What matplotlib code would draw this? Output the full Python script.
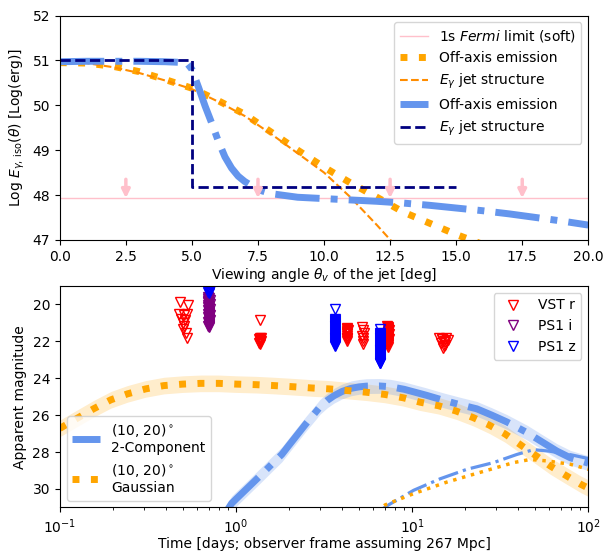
import numpy as np
import matplotlib
matplotlib.use("Agg")
import matplotlib.pyplot as plt

# ---- top panel: isotropic gamma-ray energy vs viewing angle ----
fermi_limit = 47.93
arrow_theta = [2.5, 7.5, 12.5, 17.5]
arrow_top = 48.35

# Gaussian jet
gauss_theta = [0, 1, 2, 3, 4, 5, 6, 7, 8, 9, 10, 11, 12, 13, 14, 15, 16, 17]
gauss_offaxis = [50.95, 50.94, 50.87, 50.75, 50.57, 50.38, 50.1, 49.8, 49.4,
                 49.0, 48.62, 48.27, 47.95, 47.62, 47.37, 47.12, 46.9, 46.7]
gauss_jet_theta = [0, 1, 2, 3, 4, 5, 6, 7, 8, 9, 10, 11, 12, 13, 14]
gauss_jet = [50.97, 50.94, 50.85, 50.72, 50.55, 50.36, 50.08, 49.76, 49.36,
             48.93, 48.5, 47.95, 47.33, 46.68, 46.0]

# two-component jet
twoc_theta = [0, 1, 2, 3, 4, 4.8, 5.0, 5.25, 5.5, 5.75, 6.0, 6.25, 6.5, 6.75,
              7.0, 7.5, 8.0, 9, 10, 11, 12, 13, 14, 15, 16, 17, 18, 19, 20]
twoc_offaxis = [50.97, 50.98, 50.98, 50.98, 50.97, 50.95, 50.8, 50.4, 49.98,
                49.6, 49.2, 48.85, 48.6, 48.42, 48.3, 48.12, 48.03, 47.95,
                47.92, 47.89, 47.86, 47.82, 47.77, 47.71, 47.65, 47.58, 47.5,
                47.42, 47.33]
twoc_jet_theta = [0, 5, 5, 15]
twoc_jet = [51.0, 51.0, 48.17, 48.17]

# ---- bottom panel: light curves and upper limits ----
gauss_t = [0.1, 0.125, 0.156, 0.195, 0.242, 0.307, 0.39, 0.5, 0.63, 0.8, 1.0,
           1.3, 1.65, 2.1, 2.7, 3.4, 4.3, 5.5, 7.0, 8.9, 11.1, 14.1, 17.8,
           22.3, 27.4, 33.7, 41.1, 50.0, 60.8, 75.0, 90.8, 100]
gauss_mag = [26.72, 26.18, 25.65, 25.17, 24.85, 24.58, 24.4, 24.32, 24.28,
             24.28, 24.32, 24.35, 24.4, 24.46, 24.53, 24.58, 24.67, 24.76,
             24.88, 25.06, 25.3, 25.49, 25.78, 26.14, 26.54, 27.02, 27.6,
             28.17, 28.75, 29.28, 29.75, 29.95]
gauss_err = 0.45

twoc_t = [0.9, 0.945, 1.0, 1.2, 1.4, 1.6, 1.82, 2.0, 2.2, 2.5, 2.8, 3.0, 3.3,
          3.6, 4.0, 4.5, 5.0, 5.5, 6.5, 7.5, 9.0, 12.0, 15.1, 19.0, 23.3,
          28.3, 34.5, 45.0, 55.7, 66.4, 79.1, 100]
twoc_mag = [31.1, 30.78, 30.55, 29.82, 29.2, 28.65, 28.13, 27.63, 27.13,
            26.46, 25.9, 25.55, 25.2, 24.95, 24.72, 24.55, 24.47, 24.43,
            24.42, 24.46, 24.6, 24.92, 25.2, 25.45, 25.66, 26.0, 26.37,
            26.95, 27.5, 27.95, 28.31, 28.6]
twoc_err = 0.4

twoc_low_t = [6.5, 7.35, 10.2, 14.4, 20.5, 29.0, 39.3, 48.9, 60.0, 80.0, 100]
twoc_low_mag = [31.2, 30.86, 30.07, 29.45, 28.93, 28.57, 28.13, 27.87, 27.95,
                28.15, 28.35]
gauss_low_t = [6.3, 7.03, 10.2, 15.7, 24.3, 37.7, 46.8, 58.2, 79.0, 100]
gauss_low_mag = [31.2, 30.86, 30.25, 29.63, 29.1, 28.57, 28.4, 28.48, 28.66,
                 28.93]

vst_t = [0.48, 0.535, 0.475, 0.505, 0.53, 0.49, 0.515, 0.5, 0.51, 0.5, 0.52,
         0.53,
         1.37, 1.37, 1.38, 1.36, 1.37, 1.38, 1.37, 1.36, 1.37,
         4.25, 4.27, 4.3, 4.26, 4.28, 4.25, 4.29, 4.27, 4.28, 4.26, 4.27, 4.28,
         5.2, 5.25, 5.3, 5.22, 5.27, 5.24, 5.28,
         7.2, 7.3, 7.4, 7.25, 7.35, 7.3, 7.22, 7.38, 7.3, 7.28, 7.33, 7.3,
         7.32, 7.26, 7.3, 7.28, 7.34, 7.3, 7.29, 7.31, 7.3, 7.3,
         14.2, 15.6, 14.8, 15.9, 15.1, 14.5, 15.3, 15.0, 14.7, 15.4, 15.2]
vst_mag = [19.9, 20.05, 20.55, 20.6, 20.55, 20.8, 20.85, 21.0, 21.15, 21.35,
           21.55, 21.85,
           20.85, 21.8, 21.85, 21.9, 21.95, 22.0, 22.05, 22.1, 22.15,
           21.3, 21.35, 21.4, 21.45, 21.5, 21.55, 21.6, 21.7, 21.8, 21.85,
           21.9, 22.0,
           21.25, 21.4, 21.55, 21.7, 21.85, 22.0, 22.15,
           21.2, 21.3, 21.4, 21.5, 21.6, 21.7, 21.8, 21.9, 22.0, 22.1, 22.2,
           22.3, 21.25, 21.35, 21.45, 21.55, 21.65, 21.75, 21.85, 21.95,
           22.05, 22.15,
           21.8, 21.85, 21.9, 21.95, 22.0, 22.1, 22.2, 22.35, 21.9, 22.05,
           22.25]

ps1i_t = [0.69, 0.70, 0.69, 0.71, 0.69, 0.70, 0.69, 0.70, 0.71, 0.69, 0.70,
          0.69, 0.70, 0.71, 0.69, 0.70, 0.70, 0.70, 0.69, 0.70, 0.71, 0.70,
          0.69, 0.70, 0.70, 0.71, 0.70, 0.69, 0.70, 0.70, 0.70, 0.69, 0.70,
          0.70]
ps1i_mag = [19.6, 19.65, 19.7, 19.75, 19.8, 19.85, 19.9, 19.95, 20.0, 20.05,
            20.1, 20.15, 20.2, 20.25, 20.3, 20.35, 20.4, 20.45, 20.5, 20.55,
            20.6, 20.65, 20.7, 20.75, 20.8, 20.85, 20.9, 20.95, 21.0, 21.05,
            21.1, 21.15, 21.2, 21.25]

ps1z_t = [0.69, 0.70, 0.71, 0.69, 0.70, 0.70, 0.69, 0.71, 0.70, 0.70, 0.69,
          0.70,
          3.65, 3.65, 3.65, 3.65, 3.65, 3.65, 3.65, 3.65, 3.65, 3.65, 3.65,
          3.65, 3.65, 3.65, 3.65, 3.65, 3.65, 3.65, 3.65, 3.65, 3.65, 3.65,
          3.65, 3.65, 3.65, 3.65, 3.65, 3.65, 3.65, 3.65, 3.65,
          6.6, 6.6, 6.6, 6.6, 6.6, 6.6, 6.6, 6.6, 6.6, 6.6, 6.6, 6.6, 6.6,
          6.6, 6.6, 6.6, 6.6, 6.6, 6.6, 6.6, 6.6, 6.6, 6.6, 6.6, 6.6, 6.6,
          6.6, 6.6, 6.6, 6.6, 6.6, 6.6, 6.6, 6.6, 6.6]
ps1z_mag = [18.85, 18.9, 18.95, 19.0, 19.05, 19.1, 19.15, 19.2, 19.25, 19.3,
            19.35, 19.4,
            20.25, 20.8, 20.85, 20.9, 20.95, 21.0, 21.05, 21.1, 21.15, 21.2,
            21.25, 21.3, 21.35, 21.4, 21.45, 21.5, 21.55, 21.6, 21.65, 21.7,
            21.75, 21.8, 21.85, 21.9, 21.95, 22.0, 22.05, 22.1, 22.15, 22.2,
            22.25,
            21.35, 21.55, 21.6, 21.65, 21.7, 21.75, 21.8, 21.85, 21.9, 21.95,
            22.0, 22.05, 22.1, 22.15, 22.2, 22.25, 22.3, 22.35, 22.4, 22.45,
            22.5, 22.55, 22.6, 22.65, 22.7, 22.75, 22.8, 22.85, 22.9, 22.95,
            23.0, 23.05, 23.1, 23.15, 23.2]

fig = plt.figure(figsize=(6.04, 5.54), dpi=100)
ax1 = fig.add_axes([0.099, 0.567, 0.875, 0.405])
ax2 = fig.add_axes([0.099, 0.084, 0.875, 0.400])

# top panel
ax1.axhline(fermi_limit, color='pink', lw=1, label=r'1s $\mathit{Fermi}$ limit (soft)')
for th in arrow_theta:
    ax1.annotate('', xy=(th, fermi_limit), xytext=(th, arrow_top),
                 arrowprops=dict(arrowstyle='-|>', color='pink', lw=2.5,
                                 mutation_scale=12, shrinkA=0, shrinkB=0))
ax1.plot(gauss_theta, gauss_offaxis, ':', color='orange', lw=5,
         label='Off-axis emission')
ax1.plot(gauss_jet_theta, gauss_jet, '--', color='darkorange', lw=1.5,
         label=r'$E_\gamma$ jet structure')
ax1.plot(twoc_theta, twoc_offaxis, '-.', color='cornflowerblue', lw=5,
         label='Off-axis emission')
ax1.plot(twoc_jet_theta, twoc_jet, '--', color='navy', lw=2,
         label=r'$E_\gamma$ jet structure')
ax1.set_xlim(0, 20)
ax1.set_ylim(47, 52)
ax1.set_xlabel(r'Viewing angle $\theta_v$ of the jet [deg]', labelpad=2)
ax1.set_ylabel(r'Log $E_{\gamma,\,\rm iso}(\theta)$ [Log(erg)]')
ax1.legend(loc='upper right')

# bottom panel
ax2.plot(vst_t, vst_mag, 'v', mfc='none', mec='red', ms=6.5, label='VST r')
ax2.plot(ps1i_t, ps1i_mag, 'v', mfc='none', mec='purple', ms=6.5, label='PS1 i')
ax2.plot(ps1z_t, ps1z_mag, 'v', mfc='none', mec='blue', ms=6.5, label='PS1 z')
leg_obs = ax2.legend(loc='upper right')

gm = np.array(gauss_mag)
tm = np.array(twoc_mag)
ax2.fill_between(gauss_t, gm - gauss_err, gm + gauss_err, color='orange',
                 alpha=0.2, lw=0)
ax2.fill_between(twoc_t, tm - twoc_err, tm + twoc_err, color='cornflowerblue',
                 alpha=0.25, lw=0)
l_twoc, = ax2.plot(twoc_t, twoc_mag, '-.', color='cornflowerblue', lw=5,
                   label='(10, 20)$^\\circ$\n2-Component')
l_gauss, = ax2.plot(gauss_t, gauss_mag, ':', color='orange', lw=5,
                    label='(10, 20)$^\\circ$\nGaussian')
ax2.plot(twoc_low_t, twoc_low_mag, '-.', color='cornflowerblue', lw=2.3)
ax2.plot(gauss_low_t, gauss_low_mag, ':', color='orange', lw=2.5)
ax2.legend(handles=[l_twoc, l_gauss], loc='lower left')
ax2.add_artist(leg_obs)

ax2.set_xscale('log')
ax2.set_xlim(0.1, 100)
ax2.set_ylim(31, 19)
ax2.set_yticks([20, 22, 24, 26, 28, 30])
ax2.set_xlabel('Time [days; observer frame assuming 267 Mpc]', labelpad=1)
ax2.set_ylabel('Apparent magnitude')

fig.savefig('out.png', dpi=100)
